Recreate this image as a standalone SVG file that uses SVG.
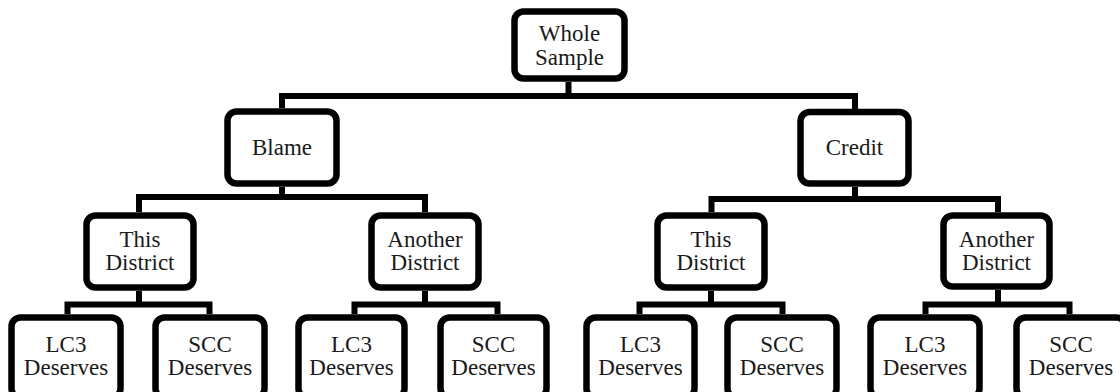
<svg xmlns="http://www.w3.org/2000/svg" width="1120" height="392" viewBox="0 0 1120 392">
<style>
.box{fill:#fff;stroke:#000;stroke-width:6.5}
.lbl{font-family:"Liberation Serif","Times New Roman",serif;font-size:23px;fill:#1a1a1a;text-anchor:middle}
.con{fill:none;stroke:#000;stroke-width:6;stroke-linejoin:miter}
</style>
<rect width="1120" height="392" fill="#fff"/>
<g id="connectors" class="con">
<path d="M568.5 82V96"/><path d="M282 108V96H855V109"/>
<path d="M282 187V197"/><path d="M139 212V197H425V212"/>
<path d="M855 187V199"/><path d="M711.5 212V199H998V212"/>
<path d="M139 291V304.5"/><path d="M67.5 314V304.5H209.5V314"/>
<path d="M425 291V304.5"/><path d="M354.5 314V304.5H497.5V314"/>
<path d="M711 291V304.5"/><path d="M639.5 314V304.5H782.5V314"/>
<path d="M998 290V304.5"/><path d="M925.5 314V304.5H1069.5V314"/>
</g>
<g id="whole"><rect class="box" x="514.5" y="11.5" width="110" height="67" rx="9"/><text class="lbl" y="41"><tspan x="569.5">Whole</tspan><tspan x="569.5" dy="24">Sample</tspan></text></g>
<g id="blame"><rect class="box" x="227.5" y="111.5" width="109" height="72" rx="9"/><text class="lbl" x="282" y="155">Blame</text></g>
<g id="credit"><rect class="box" x="800.5" y="112" width="108" height="71.5" rx="9"/><text class="lbl" x="854.5" y="155">Credit</text></g>
<g id="blame-this"><rect class="box" x="86.5" y="215.5" width="107" height="72" rx="9"/><text class="lbl" y="247"><tspan x="140">This</tspan><tspan x="140" dy="23">District</tspan></text></g>
<g id="blame-another"><rect class="box" x="371.5" y="215.5" width="107" height="72" rx="9"/><text class="lbl" y="247"><tspan x="425">Another</tspan><tspan x="425" dy="23">District</tspan></text></g>
<g id="credit-this"><rect class="box" x="657.5" y="215.5" width="107" height="72" rx="9"/><text class="lbl" y="247"><tspan x="711">This</tspan><tspan x="711" dy="23">District</tspan></text></g>
<g id="credit-another"><rect class="box" x="943.5" y="215.5" width="106" height="71" rx="9"/><text class="lbl" y="247"><tspan x="996.5">Another</tspan><tspan x="996.5" dy="23">District</tspan></text></g>
<g id="leaf1"><rect class="box" x="11.5" y="317.5" width="109" height="80" rx="9"/><text class="lbl" y="352"><tspan x="66">LC3</tspan><tspan x="66" dy="23">Deserves</tspan></text></g>
<g id="leaf2"><rect class="box" x="155.5" y="317.5" width="109" height="80" rx="9"/><text class="lbl" y="352"><tspan x="210">SCC</tspan><tspan x="210" dy="23">Deserves</tspan></text></g>
<g id="leaf3"><rect class="box" x="298.5" y="317.5" width="106" height="80" rx="9"/><text class="lbl" y="352"><tspan x="351.5">LC3</tspan><tspan x="351.5" dy="23">Deserves</tspan></text></g>
<g id="leaf4"><rect class="box" x="440.5" y="317.5" width="106" height="80" rx="9"/><text class="lbl" y="352"><tspan x="493.5">SCC</tspan><tspan x="493.5" dy="23">Deserves</tspan></text></g>
<g id="leaf5"><rect class="box" x="586.5" y="317.5" width="108" height="80" rx="9"/><text class="lbl" y="352"><tspan x="640.5">LC3</tspan><tspan x="640.5" dy="23">Deserves</tspan></text></g>
<g id="leaf6"><rect class="box" x="727.5" y="317.5" width="109" height="80" rx="9"/><text class="lbl" y="352"><tspan x="782">SCC</tspan><tspan x="782" dy="23">Deserves</tspan></text></g>
<g id="leaf7"><rect class="box" x="870.5" y="317.5" width="109" height="80" rx="9"/><text class="lbl" y="352"><tspan x="925">LC3</tspan><tspan x="925" dy="23">Deserves</tspan></text></g>
<g id="leaf8"><rect class="box" x="1016.5" y="317.5" width="109" height="80" rx="9"/><text class="lbl" y="352"><tspan x="1071">SCC</tspan><tspan x="1071" dy="23">Deserves</tspan></text></g>
</svg>
